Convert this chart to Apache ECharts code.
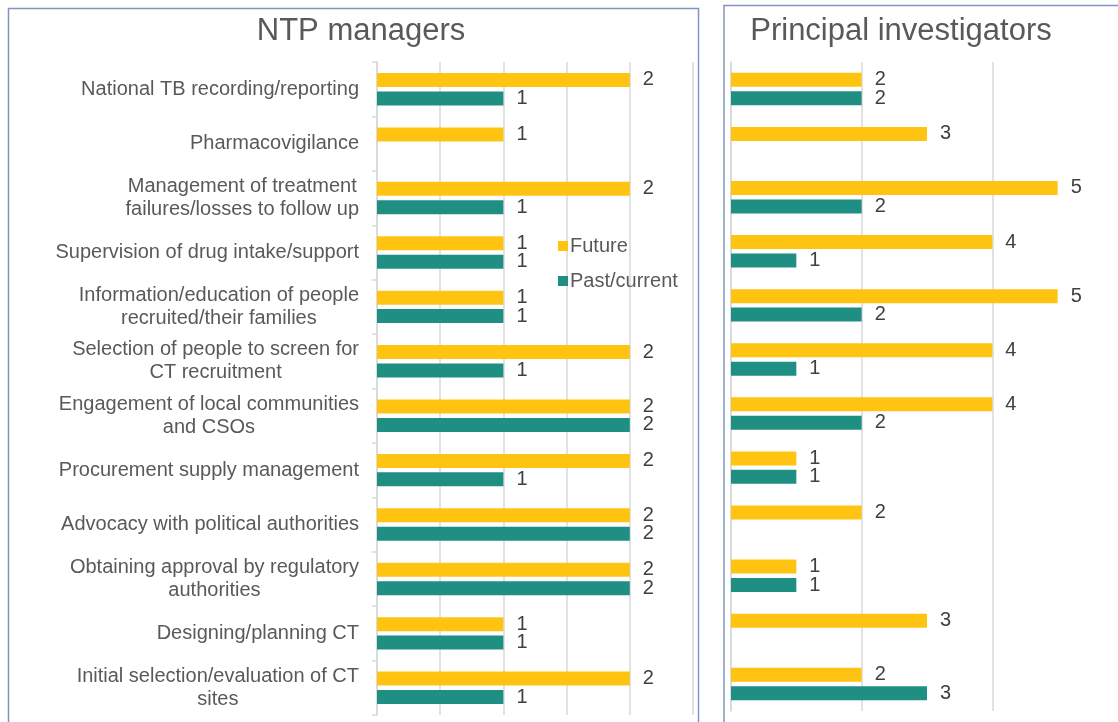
<!DOCTYPE html>
<html><head><meta charset="utf-8">
<script src="https://cdn.jsdelivr.net/npm/echarts@6/dist/echarts.min.js"></script>
<style>html,body{margin:0;padding:0;background:#fff}#c{width:1118px;height:722px}</style>
</head><body><div id="c"></div>
<script>
const categories = [
  "National TB recording/reporting",
  "Pharmacovigilance",
  "Management of treatment\nfailures/losses to follow up",
  "Supervision of drug intake/support",
  "Information/education of people\nrecruited/their families",
  "Selection of people to screen for\nCT recruitment",
  "Engagement of local communities\nand CSOs",
  "Procurement supply management",
  "Advocacy with political authorities",
  "Obtaining approval by regulatory\nauthorities",
  "Designing/planning CT",
  "Initial selection/evaluation of CT\nsites"
];
const seriesNames = ["Future", "Past/current"];
const ntpFuture = [2, 1, 2, 1, 1, 2, 2, 2, 2, 2, 1, 2];
const ntpPast   = [1, null, 1, 1, 1, 1, 2, 1, 2, 2, 1, 1];
const piFuture  = [2, 3, 5, 4, 5, 4, 4, 1, 2, 1, 3, 2];
const piPast    = [2, null, 2, 1, 2, 1, 2, 1, null, 1, null, 3];
const panelTitles = ["NTP managers", "Principal investigators"];

const YELLOW = '#FFC312', TEAL = '#1F8F84';
const FONT = '"Liberation Sans", Arial, sans-serif';
const chart = echarts.init(document.getElementById('c'));

function bar(name, data, color, idx) {
  return {
    name, type: 'bar', data, xAxisIndex: idx, yAxisIndex: idx,
    barWidth: 14, barGap: '32%',
    itemStyle: { color },
    label: { show: true, position: 'right', distance: 13, color: '#404040', fontSize: 20, fontFamily: FONT },
    animation: false
  };
}
const labelFmt = v => v.split('\n').map(l => '{c|' + l + '}').join('\n');

chart.setOption({
  animation: false,
  textStyle: { fontFamily: FONT },
  graphic: [
    { type: 'rect', shape: { x: 8.5, y: 8.5, width: 690, height: 760 }, style: { fill: 'none', stroke: '#8096BC', lineWidth: 1.5 }, z: 0 },
    { type: 'rect', shape: { x: 724, y: 5.5, width: 500, height: 760 }, style: { fill: 'none', stroke: '#8096BC', lineWidth: 1.5 }, z: 0 }
  ],
  title: [
    { text: panelTitles[0], left: 356, top: 11, textAlign: 'center', textStyle: { fontSize: 31, fontWeight: 'normal', color: '#595959', fontFamily: FONT } },
    { text: panelTitles[1], left: 896, top: 11, textAlign: 'center', textStyle: { fontSize: 31, fontWeight: 'normal', color: '#595959', fontFamily: FONT } }
  ],
  legend: {
    data: seriesNames, orient: 'vertical', left: 553, top: 231,
    itemWidth: 10, itemHeight: 10, itemGap: 15, icon: 'rect',
    textStyle: { fontSize: 20, color: '#595959', fontFamily: FONT, padding: [0, 0, 0, -3] }
  },
  grid: [
    { left: 377, top: 62, width: 316, height: 653, outerBoundsMode: 'none' },
    { left: 731, top: 62, width: 392, height: 649, outerBoundsMode: 'none' }
  ],
  xAxis: [
    { gridIndex: 0, type: 'value', min: 0, max: 2.5, interval: 0.5, axisLabel: { show: false }, axisLine: { show: false }, axisTick: { show: false }, splitLine: { lineStyle: { color: '#D9D9D9', width: 1.5 } } },
    { gridIndex: 1, type: 'value', min: 0, max: 6, interval: 2, axisLabel: { show: false }, axisLine: { show: false }, axisTick: { show: false }, splitLine: { lineStyle: { color: '#D9D9D9', width: 1.5 } } }
  ],
  yAxis: [
    { gridIndex: 0, type: 'category', data: categories, inverse: true,
      axisLine: { lineStyle: { color: '#D9D9D9', width: 1.5 } },
      axisTick: { show: true, length: 5, lineStyle: { color: '#D9D9D9', width: 1.5 } },
      axisLabel: { margin: 18, color: '#595959', fontSize: 20, fontFamily: FONT, lineHeight: 23, formatter: labelFmt,
        rich: { c: { align: 'center', fontSize: 20, lineHeight: 23, color: '#595959', fontFamily: FONT } } } },
    { gridIndex: 1, type: 'category', data: categories, inverse: true,
      axisLine: { lineStyle: { color: '#D9D9D9', width: 1.5 } },
      axisTick: { show: false }, axisLabel: { show: false } }
  ],
  series: [
    bar(seriesNames[0], ntpFuture, YELLOW, 0),
    bar(seriesNames[1], ntpPast, TEAL, 0),
    bar(seriesNames[0], piFuture, YELLOW, 1),
    bar(seriesNames[1], piPast, TEAL, 1)
  ]
});
</script></body></html>
